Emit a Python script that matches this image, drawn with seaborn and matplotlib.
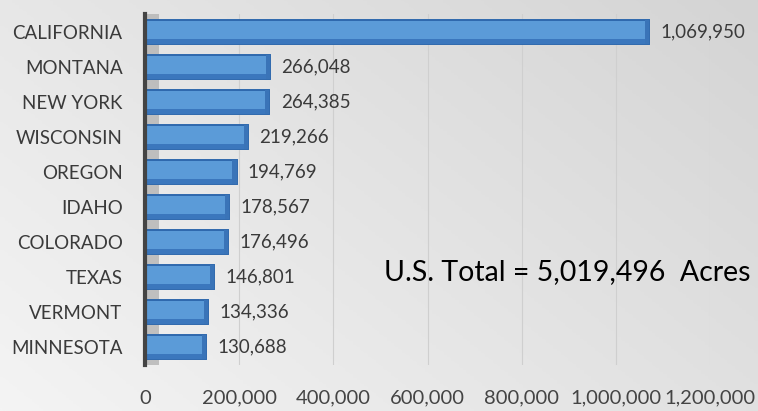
import numpy as np
import pandas as pd
import matplotlib
matplotlib.use("Agg")
import matplotlib.pyplot as plt
from matplotlib.patches import Rectangle
from matplotlib.ticker import FuncFormatter
import seaborn as sns

states = ["CALIFORNIA", "MONTANA", "NEW YORK", "WISCONSIN", "OREGON",
          "IDAHO", "COLORADO", "TEXAS", "VERMONT", "MINNESOTA"]
acres = [1069950, 266048, 264385, 219266, 194769,
         178567, 176496, 146801, 134336, 130688]
x_ticks = [0, 200000, 400000, 600000, 800000, 1000000, 1200000]
total_note = "U.S. Total = 5,019,496  Acres"


def main():
    df = pd.DataFrame({"state": states, "acres": acres})

    sns.set_theme(style="white")
    plt.rcParams["font.family"] = ["Lato", "DejaVu Sans"]

    fig = plt.figure(figsize=(7.58, 4.11), dpi=100)

    # soft grey gradient backdrop
    bg = fig.add_axes([0, 0, 1, 1], zorder=0)
    xx, yy = np.meshgrid(np.linspace(0, 1, 200), np.linspace(0, 1, 200))
    grad = 0.6 * xx + 0.4 * (1 - yy)
    bg.imshow(grad, cmap=sns.blend_palette(["#f4f4f4", "#d4d4d4"], as_cmap=True),
              aspect="auto", extent=[0, 1, 0, 1])
    bg.axis("off")

    ax = fig.add_axes([0.191, 0.113, 0.746, 0.852], zorder=1)
    ax.patch.set_alpha(0)

    sns.barplot(data=df, y="state", x="acres", orient="h", ax=ax,
                color="#5b9bd8", width=0.7, edgecolor="#2e68ad",
                linewidth=1.4, saturation=1)
    bars = list(ax.containers[0])

    # grey side wall next to the axis
    ax.axvspan(0, 30000, color="#b4b4b4", alpha=0.8, zorder=0.5, lw=0)

    # darker underside / end strips for a bevelled look
    for p in bars:
        x0, y0 = p.get_x(), p.get_y()
        w, h = p.get_width(), p.get_height()
        ax.add_patch(Rectangle((x0, y0 + h * 0.78), w, h * 0.22,
                               color="#3b77bd", lw=0, zorder=p.get_zorder() + 0.1))
        ax.add_patch(Rectangle((x0 + w - 9000, y0), 9000, h,
                               color="#3a74b8", lw=0, zorder=p.get_zorder() + 0.1))

    for p, v in zip(bars, acres):
        ax.text(p.get_width() + 24000, p.get_y() + p.get_height() / 2,
                f"{v:,}", va="center", ha="left", fontsize=13.5,
                color="#3a3a3a")

    ax.set_xlim(0, 1200000)
    ax.set_xticks(x_ticks)
    ax.xaxis.set_major_formatter(FuncFormatter(lambda v, _: f"{int(v):,}"))
    ax.grid(axis="x", color="#cfcfcf", linewidth=0.8)
    ax.set_axisbelow(True)

    ax.set_xlabel("")
    ax.set_ylabel("")
    ax.tick_params(axis="x", length=0, pad=18, labelsize=14.5, labelcolor="#444444")
    ax.tick_params(axis="y", length=0, pad=16, labelsize=13.5, labelcolor="#3a3a3a")

    for s in ["top", "right", "bottom"]:
        ax.spines[s].set_visible(False)
    ax.spines["left"].set_color("#444444")
    ax.spines["left"].set_linewidth(3)

    ax.text(0.99, 0.338, total_note, transform=fig.transFigure, ha="right",
            va="center", fontsize=20.5, color="black")

    fig.savefig("out.png", dpi=100)


if __name__ == "__main__":
    main()
